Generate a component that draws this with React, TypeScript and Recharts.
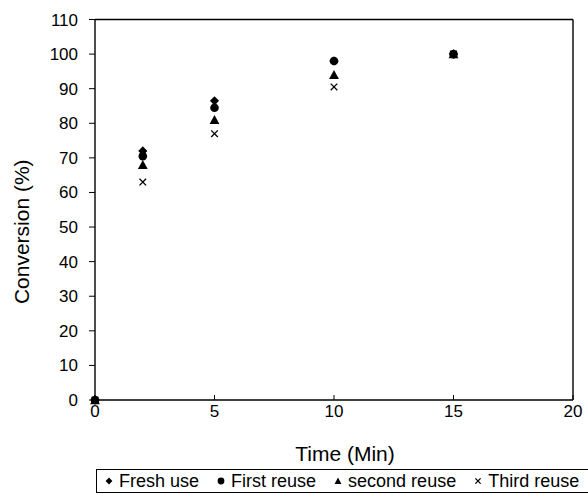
import { ScatterChart, Scatter, XAxis, YAxis, ReferenceLine, Label } from "recharts";

// values
const times = [0, 2, 5, 10, 15];
const freshUse = [0, 72, 86.5, 98, 100];
const firstReuse = [0, 70.5, 84.5, 98, 100];
const secondReuse = [0, 68, 81, 94, 100];
const thirdReuse = [0, 63, 77, 90.5, 100];

const xTicks = [0, 5, 10, 15, 20];
const yTicks = [0, 10, 20, 30, 40, 50, 60, 70, 80, 90, 100, 110];

const FONT = '"Liberation Sans", Arial, sans-serif';
const INK = "#000";

const toPoints = (vals: number[]) => times.map((t, i) => ({ t, v: vals[i] }));

// marker shapes
function Diamond({ cx, cy, s = 4.6 }: any) {
  return <path d={`M${cx},${cy - s}L${cx + s},${cy}L${cx},${cy + s}L${cx - s},${cy}Z`} fill={INK} />;
}
function Dot({ cx, cy, s = 4.3 }: any) {
  return <circle cx={cx} cy={cy} r={s} fill={INK} />;
}
function Tri({ cx, cy, s = 4.9 }: any) {
  return <path d={`M${cx},${cy - s}L${cx + s},${cy + s * 0.85}L${cx - s},${cy + s * 0.85}Z`} fill={INK} />;
}
function Cross({ cx, cy, s = 3.3 }: any) {
  return (
    <path
      d={`M${cx - s},${cy - s}L${cx + s},${cy + s}M${cx + s},${cy - s}L${cx - s},${cy + s}`}
      stroke={INK}
      strokeWidth={1.3}
      fill="none"
    />
  );
}

const SERIES = [
  { name: "Fresh use", data: freshUse, Shape: Diamond },
  { name: "First reuse", data: firstReuse, Shape: Dot },
  { name: "second reuse", data: secondReuse, Shape: Tri },
  { name: "Third reuse", data: thirdReuse, Shape: Cross },
];

function LegendBox() {
  return (
    <div
      style={{
        position: "absolute",
        left: 96,
        top: 469,
        width: 520,
        height: 24,
        border: "1px solid #000",
        display: "flex",
        alignItems: "center",
        fontFamily: FONT,
        fontSize: 18,
        color: "#000",
        whiteSpace: "nowrap",
        boxSizing: "border-box",
      }}
    >
      {SERIES.map(({ name, Shape }, i) => (
        <span key={name} style={{ display: "flex", alignItems: "center", marginLeft: i === 0 ? 7 : 17 }}>
          <svg width={10} height={10} style={{ marginRight: 5 }}>
            <Shape cx={5} cy={5} s={name === "Third reuse" ? 2.6 : 3.4} />
          </svg>
          {name}
        </span>
      ))}
    </div>
  );
}

export default function App() {
  return (
    <div style={{ position: "absolute", left: 0, top: 0, width: 588, height: 494, overflow: "hidden", background: "#fff" }}>
      <ScatterChart width={588} height={494} margin={{ top: 19.5, right: 15, bottom: 0, left: 0 }}>
        <XAxis
          type="number"
          dataKey="t"
          domain={[0, 20]}
          ticks={xTicks}
          interval={0}
          height={94}
          axisLine={{ stroke: INK, strokeWidth: 1.4 }}
          tickLine={{ stroke: INK }}
          tickSize={-5}
          tickMargin={10}
          tick={{ fill: INK, fontSize: 17, fontFamily: FONT }}
        >
          <Label
            value="Time (Min)"
            position="insideBottom"
            offset={33}
            dx={11}
            style={{ fill: INK, fontSize: 21, fontFamily: FONT }}
          />
        </XAxis>
        <YAxis
          type="number"
          dataKey="v"
          domain={[0, 110]}
          ticks={yTicks}
          interval={0}
          width={95}
          axisLine={{ stroke: INK, strokeWidth: 1.4 }}
          tickLine={{ stroke: INK }}
          tickSize={6}
          tickMargin={11}
          tick={{ fill: INK, fontSize: 17, fontFamily: FONT }}
        >
          <Label
            content={({ viewBox }: any) => {
              const x = viewBox.x + 21;
              const y = viewBox.y + viewBox.height / 2 + 22;
              return (
                <text
                  x={x}
                  y={y}
                  transform={`rotate(-90 ${x} ${y})`}
                  textAnchor="middle"
                  dominantBaseline="central"
                  fill={INK}
                  fontSize={21}
                  fontFamily={FONT}
                >
                  Conversion (%)
                </text>
              );
            }}
          />
        </YAxis>
        <ReferenceLine y={110} stroke={INK} strokeWidth={1.4} ifOverflow="extendDomain" />
        <ReferenceLine x={20} stroke={INK} strokeWidth={1.4} ifOverflow="extendDomain" />
        {SERIES.map(({ name, data, Shape }) => (
          <Scatter
            key={name}
            name={name}
            data={toPoints(data)}
            isAnimationActive={false}
            shape={(p: any) => <Shape cx={p.cx} cy={p.cy} />}
          />
        ))}
      </ScatterChart>
      <LegendBox />
    </div>
  );
}
